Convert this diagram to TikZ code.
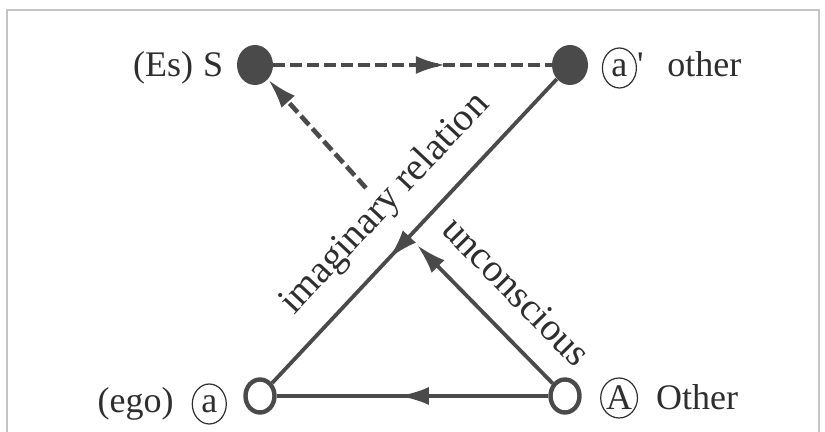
\documentclass[tikz,border=0pt]{standalone}
\usepackage{fontspec}
\setmainfont{Liberation Serif}
\usetikzlibrary{arrows.meta, positioning, shapes.geometric, decorations.markings}

\definecolor{ink}{HTML}{4A4A4A}
\definecolor{txt}{HTML}{2E2E2E}
\definecolor{framegray}{HTML}{C4C4C4}

\newcommand{\ringed}[1]{\tikz[baseline=(r.base)]\node[draw=txt, line width=0.6pt, ellipse, anchor=center, inner sep=0pt, minimum width=17pt, minimum height=20pt] (r) {#1};}

\begin{document}
\begin{tikzpicture}[x=0.5pt, y=0.5pt,
    dot/.style={ellipse, fill=ink, minimum width=18pt, minimum height=20pt, inner sep=0pt},
    hole/.style={ellipse, draw=ink, line width=2.2pt, fill=white, minimum width=14.5pt, minimum height=16.5pt, inner sep=0pt},
    link/.style={color=ink, line width=1.9pt},
    dashlink/.style={color=ink, line width=2.3pt, dash pattern=on 6pt off 2.5pt},
    tip/.style={-{Latex[length=15pt, width=9pt]}},
    midarrow/.style={postaction={decorate}, decoration={markings, mark=at position #1 with {\arrow{Latex[length=15pt, width=9pt]}}}},
    lbl/.style={inner sep=0pt, text=txt, font=\fontsize{18}{20}\selectfont},
    edgelbl/.style={lbl, sloped, inner sep=2pt, font=\fontsize{19.5}{22}\selectfont}]
    \useasboundingbox (0, 0) rectangle (825, 432);
    \draw[framegray, line width=0.6pt] (7, 0) |- (819, 422) -- (819, 0);

    \node[dot] (S) at (255, 367) {};
    \node[dot] (aprime) at (570, 367) {};
    \node[hole] (ego) at (260, 36) {};
    \node[hole] (bigA) at (565, 36) {};
    \coordinate (gap) at (366, 244);
    \coordinate (uctip) at (417, 187);

    \node[lbl, left=6.5pt of S, yshift=-1.5pt] (Slbl) {(Es)\hspace{5pt}S};
    \node[lbl, right=6.5pt of aprime, yshift=-1.5pt] (aplbl) {\ringed{a}\textquotesingle\hspace{12pt}other};
    \node[lbl, left=8pt of ego, yshift=-4pt] (egolbl) {(ego)\hspace{9pt}\ringed{a}};
    \node[lbl, right=9pt of bigA, yshift=-1pt] (Albl) {\ringed{A}\hspace{9pt}Other};

    \draw[dashlink, midarrow=0.62] (S) -- (aprime);
    \draw[dashlink, tip] (gap) -- (S);
    \draw[link, midarrow=0.59] (aprime) -- node[edgelbl, above=8pt] {imaginary relation} (ego);
    \draw[link, tip] (bigA) -- node[edgelbl, above=10pt, pos=0.47] {unconscious} (uctip);
    \draw[link, midarrow=0.55] (bigA) -- (ego);
\end{tikzpicture}
\end{document}
